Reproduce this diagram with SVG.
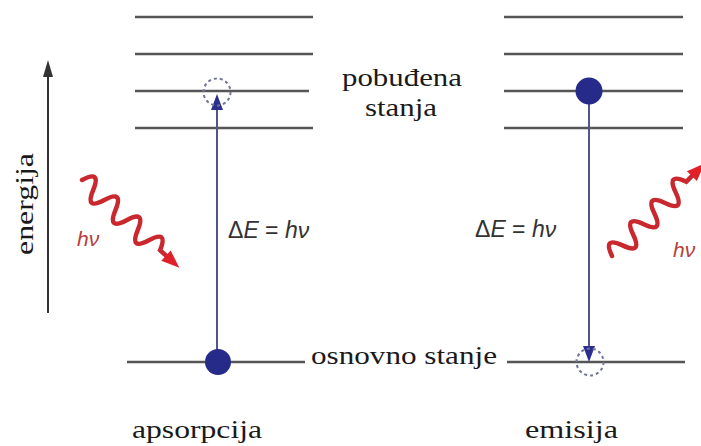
<svg xmlns="http://www.w3.org/2000/svg" width="701" height="446" viewBox="0 0 701 446">
<style>
.lvl{stroke:#555;stroke-width:2.5;fill:none}
.tr{stroke:#50548f;stroke-width:2;fill:none}
.head{fill:#2b2f8c}
.dot{fill:#262b8a}
.ghost{fill:none;stroke:#70739a;stroke-width:2;stroke-dasharray:3 3}
.wave{fill:none;stroke:#c8282e;stroke-width:4.5;stroke-linecap:round}
.wh{fill:#e0212a}
.ser{font-family:"Liberation Serif","Times New Roman",serif;font-size:25px;fill:#1a1a1a}
.frm{font-family:"Liberation Sans",Arial,sans-serif;font-size:23px;fill:#333}
.hv{font-family:"Liberation Sans",Arial,sans-serif;font-size:21px;font-style:italic;fill:#b8403c}
</style>
<rect width="701" height="446" fill="#fff"/>
<g id="energy-axis">
<line x1="48" y1="313" x2="48" y2="72" stroke="#333" stroke-width="2"/>
<polygon points="48,60 43,77 53,77" fill="#333"/>
<text class="ser" transform="translate(33,255) rotate(-90)" x="0" y="0" textLength="102" lengthAdjust="spacingAndGlyphs">energija</text>
</g>
<g id="levels-absorption">
<line class="lvl" x1="135" y1="17" x2="313" y2="17"/>
<line class="lvl" x1="135" y1="54" x2="313" y2="54"/>
<line class="lvl" x1="135" y1="91" x2="309" y2="91"/>
<line class="lvl" x1="135" y1="128" x2="313" y2="128"/>
<line class="lvl" x1="127" y1="362" x2="305" y2="362"/>
</g>
<g id="levels-emission">
<line class="lvl" x1="504" y1="17" x2="683" y2="17"/>
<line class="lvl" x1="504" y1="54" x2="683" y2="54"/>
<line class="lvl" x1="504" y1="91" x2="683" y2="91"/>
<line class="lvl" x1="504" y1="128" x2="683" y2="128"/>
<line class="lvl" x1="507" y1="362" x2="685" y2="362"/>
</g>
<g id="connectors">
<line class="tr" x1="217" y1="362" x2="217" y2="108"/>
<polygon class="head" points="217,94 211,110 223,110"/>
<line class="tr" x1="589" y1="91" x2="589" y2="348"/>
<polygon class="head" points="589,362 583,346 595,346"/>
</g>
<g id="absorption-electron">
<circle class="ghost" cx="217" cy="92" r="13.5"/>
<circle class="dot" cx="218" cy="362" r="13"/>
</g>
<g id="emission-electron">
<circle class="dot" cx="589" cy="91" r="13.5"/>
<circle class="ghost" cx="590" cy="362" r="13.5"/>
</g>
<g id="photon-in">
<g transform="translate(82,180) rotate(42)">
<path class="wave" d="M0,0 c5,-14 10,-14 15,0 s10,14 15,0 s10,-14 15,0 s10,14 15,0 s10,-14 15,0 s10,14 15,0 s10,-14 15,0 l10,0"/>
<polygon class="wh" points="113,-7 131,0 113,7"/>
</g>
<text class="hv" x="77" y="246">hν</text>
</g>
<g id="photon-out">
<g transform="translate(612,256) rotate(-45)">
<path class="wave" d="M0,0 c5,-14 10,-14 15,0 s10,14 15,0 s10,-14 15,0 s10,14 15,0 s10,-14 15,0 s10,14 15,0 s10,-14 15,0 l10,0"/>
<polygon class="wh" points="113,-7 131,0 113,7"/>
</g>
<text class="hv" x="673" y="257">hν</text>
</g>
<g id="formula-left">
<text class="frm" x="228" y="238">Δ<tspan font-style="italic">E</tspan> = <tspan font-style="italic">hν</tspan></text>
</g>
<g id="formula-right">
<text class="frm" x="475" y="237">Δ<tspan font-style="italic">E</tspan> = <tspan font-style="italic">hν</tspan></text>
</g>
<g id="labels">
<text class="ser" x="342" y="86" textLength="120" lengthAdjust="spacingAndGlyphs">pobuđena</text>
<text class="ser" x="365" y="116" textLength="72" lengthAdjust="spacingAndGlyphs">stanja</text>
<text class="ser" x="311" y="364" textLength="186" lengthAdjust="spacingAndGlyphs">osnovno stanje</text>
<text class="ser" x="132" y="438" textLength="130" lengthAdjust="spacingAndGlyphs">apsorpcija</text>
<text class="ser" x="525" y="438" textLength="93" lengthAdjust="spacingAndGlyphs">emisija</text>
</g>
</svg>
